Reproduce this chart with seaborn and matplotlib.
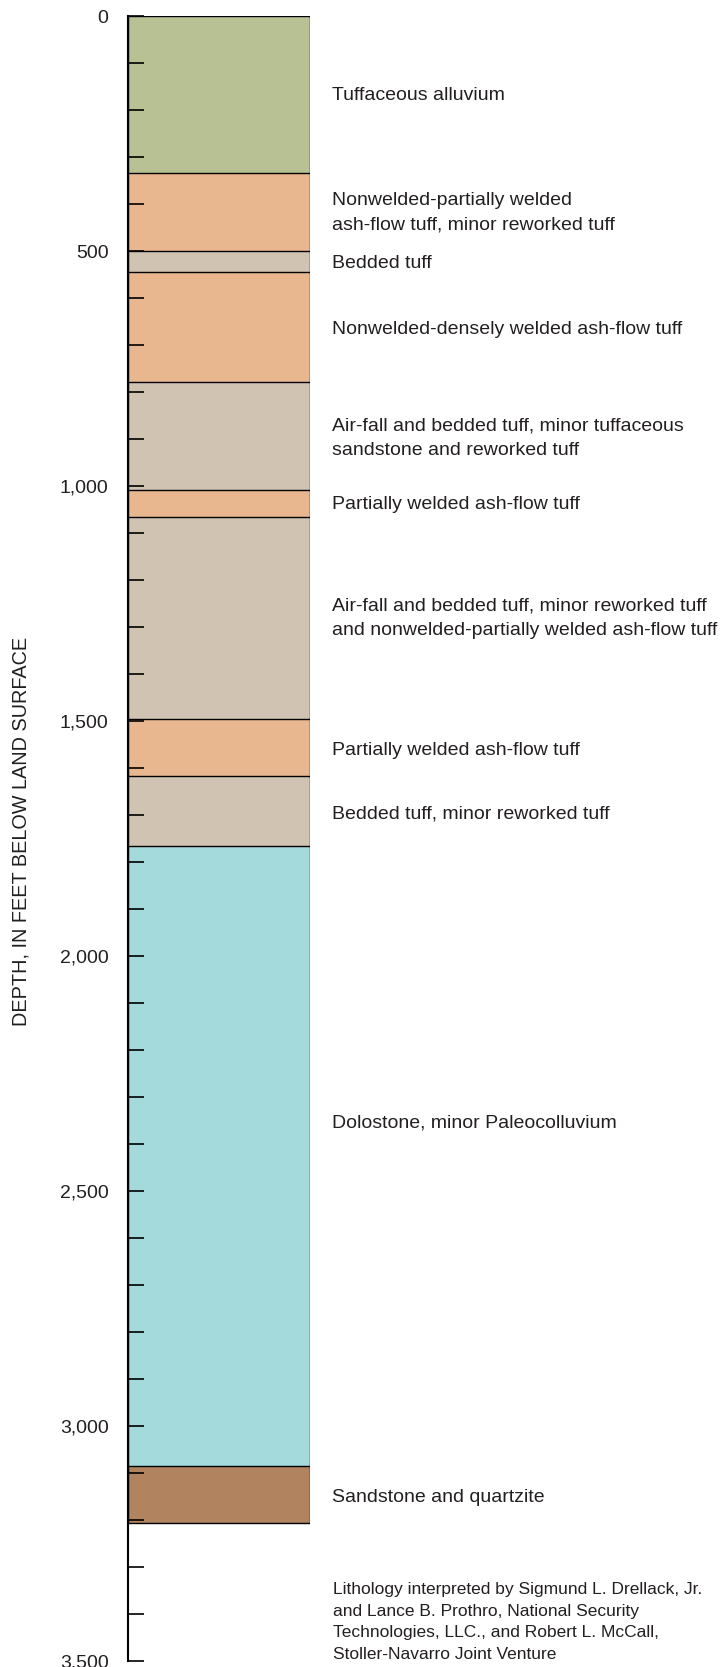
import numpy as np
import pandas as pd
import matplotlib
matplotlib.use('Agg')
import matplotlib.pyplot as plt
from matplotlib.ticker import FuncFormatter, MultipleLocator
import seaborn as sns

# Lithologic column (depth in feet below land surface)
layer_tops = [0, 333, 500, 545, 778, 1008, 1067, 1495, 1617, 1765, 3085]
layer_bottoms = [333, 500, 545, 778, 1008, 1067, 1495, 1617, 1765, 3085, 3206]
layer_colors = ['#B8C194', '#E8B78F', '#D0C3B1', '#E8B78F', '#D0C3B1', '#E8B78F',
                '#D0C3B1', '#E8B78F', '#D0C3B1', '#A4DADB', '#B1845F']
layer_labels = [
    'Tuffaceous alluvium',
    'Nonwelded-partially welded\nash-flow tuff, minor reworked tuff',
    'Bedded tuff',
    'Nonwelded-densely welded ash-flow tuff',
    'Air-fall and bedded tuff, minor tuffaceous\nsandstone and reworked tuff',
    'Partially welded ash-flow tuff',
    'Air-fall and bedded tuff, minor reworked tuff\nand nonwelded-partially welded ash-flow tuff',
    'Partially welded ash-flow tuff',
    'Bedded tuff, minor reworked tuff',
    'Dolostone, minor Paleocolluvium',
    'Sandstone and quartzite',
]
label_depths = [170, 418, 527, 666, 898, 1040, 1281, 1562, 1697, 2356, 3152]

credit = ('Lithology interpreted by Sigmund L. Drellack, Jr.\n'
          'and Lance B. Prothro, National Security\n'
          'Technologies, LLC., and Robert L. McCall,\n'
          'Stoller-Navarro Joint Venture')

sns.set_style('white')
plt.rcParams['font.family'] = ['Liberation Sans Narrow', 'Liberation Sans', 'DejaVu Sans']

df = pd.DataFrame({'layer': [f'L{i}' for i in range(len(layer_tops))],
                   'top': layer_tops, 'bottom': layer_bottoms,
                   'color': layer_colors, 'col': 'column'})
# deepest first so shallower bars cover them
df = df.iloc[::-1].reset_index(drop=True)

fig = plt.figure(figsize=(7.22, 16.67), dpi=100)
W, H = 722, 1667
ax = fig.add_axes([128 / W, (H - 1661) / H, 182 / W, 1645 / H])

sns.barplot(data=df, x='col', y='bottom', hue='layer', hue_order=list(df['layer']),
            palette=dict(zip(df['layer'], df['color'])), dodge=False, width=1.0,
            edgecolor='black', linewidth=1.0, legend=False, ax=ax, saturation=1)

ax.set_xlim(-0.5, 0.5)
ax.set_ylim(3500, 0)
ax.set_xticks([])
ax.set_xlabel('')
ax.set_ylabel('')
for s in ['top', 'right', 'bottom']:
    ax.spines[s].set_visible(False)
ax.spines['left'].set_linewidth(1.5)
ax.spines['left'].set_color('black')
ax.spines['left'].set_zorder(5)
ax.set_axisbelow(False)
ax.yaxis.set_zorder(6)

ax.yaxis.set_major_locator(MultipleLocator(500))
ax.yaxis.set_minor_locator(MultipleLocator(100))
ax.yaxis.set_major_formatter(FuncFormatter(lambda v, p: f'{int(v):,}'))
ax.tick_params(axis='y', which='both', direction='in', length=11.5, width=1.2,
               color='black', left=True)
ax.tick_params(axis='y', which='major', labelsize=14, pad=14, labelcolor='#231f20')

for txt, d in zip(layer_labels, label_depths):
    ax.annotate(txt, xy=(1, d), xycoords=('axes fraction', 'data'),
                xytext=(22, 0), textcoords='offset pixels', ha='left', va='center',
                fontsize=14, linespacing=1.55, color='#231f20', annotation_clip=False)

fig.text(333 / W, 1 - 1622 / H, credit, ha='left', va='center', fontsize=12.5,
         linespacing=1.55, color='#231f20')
fig.text(21 / W, 1 - 831 / H, 'DEPTH, IN FEET BELOW LAND SURFACE', rotation=90,
         ha='center', va='center', fontsize=14.3, color='#231f20')

fig.savefig('out.png', dpi=100)
